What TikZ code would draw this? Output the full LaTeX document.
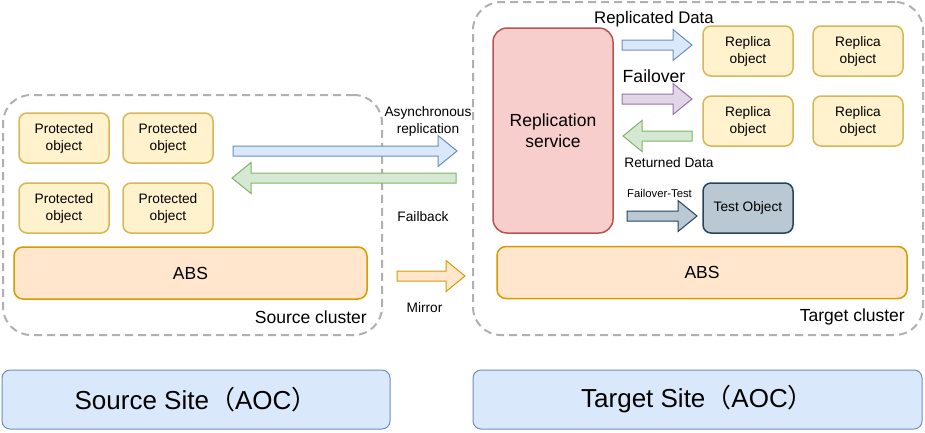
\documentclass[tikz,border=0pt]{standalone}
\usepackage{fontspec}
\setmainfont{Liberation Sans}
\newfontfamily\cjk{Noto Sans CJK SC}
\usetikzlibrary{positioning}

\definecolor{yelfill}{HTML}{FFF2CC}
\definecolor{yeldraw}{HTML}{D6B656}
\definecolor{orgfill}{HTML}{FFE6CC}
\definecolor{orgdraw}{HTML}{D79B00}
\definecolor{redfill}{HTML}{F8CECC}
\definecolor{reddraw}{HTML}{B85450}
\definecolor{bluefill}{HTML}{DAE8FC}
\definecolor{bluedraw}{HTML}{6C8EBF}
\definecolor{grnfill}{HTML}{D5E8D4}
\definecolor{grndraw}{HTML}{82B366}
\definecolor{purfill}{HTML}{E1D5E7}
\definecolor{purdraw}{HTML}{9673A6}
\definecolor{slatefill}{HTML}{BAC8D3}
\definecolor{slatedraw}{HTML}{23445D}
\definecolor{clgray}{HTML}{B0B0B0}

% block arrow: style, tail x, tip x, y
\newcommand{\fatarrow}[4]{%
  \draw[#1, line width=1pt, line join=miter]
    (#2,#4-5) -- ({#3-19*sign(#3-#2)},#4-5) -- ({#3-19*sign(#3-#2)},#4-15.5)
    -- (#3,#4) -- ({#3-19*sign(#3-#2)},#4+15.5) -- ({#3-19*sign(#3-#2)},#4+5)
    -- (#2,#4+5) -- cycle;}

\begin{document}
\begin{tikzpicture}[x=1pt, y=-1pt,
  txt/.style={inner sep=0pt, align=center, font=\fontsize{13.7}{17}\selectfont},
  bigtxt/.style={inner sep=0pt, align=center, font=\fontsize{17.5}{21}\selectfont},
  obj/.style={draw=yeldraw, fill=yelfill, line width=1.5pt, rounded corners=8pt,
    minimum width=90pt, minimum height=50pt, txt},
  abs/.style={draw=orgdraw, fill=orgfill, line width=1.5pt, rounded corners=9pt,
    minimum height=52pt, bigtxt},
  cluster/.style={draw=clgray, line width=2pt, dash pattern=on 8pt off 5pt,
    rounded corners=28pt},
  site/.style={draw=bluedraw, fill=bluefill, line width=1pt, rounded corners=8pt,
    minimum height=59pt, font=\fontsize{26}{30}\selectfont}]
  \useasboundingbox (0,0) rectangle (925,432);

  % Source side
  \node[cluster, minimum width=379pt, minimum height=240pt] (srccl) at (192.5,215) {};
  \node[obj] (prot1) at (64,138) {Protected\\object};
  \node[obj] (prot2) at (168,138) {Protected\\object};
  \node[obj] (prot3) at (64,208) {Protected\\object};
  \node[obj] (prot4) at (168,208) {Protected\\object};
  \node[abs, minimum width=353pt] (srcabs) at (190.5,273) {ABS};
  \node[bigtxt, anchor=east] (srclbl) at (367,317) {Source cluster};

  % Target side
  \node[cluster, minimum width=450pt, minimum height=333pt] (tgtcl) at (698,168.5) {};
  \node[draw=reddraw, fill=redfill, line width=1.5pt, rounded corners=14pt,
    minimum width=120pt, minimum height=205pt, bigtxt] (repsvc) at (553,130.5)
    {Replication\\service};
  \node[obj] (rep1) at (748,51) {Replica\\object};
  \node[obj] (rep2) at (858,51) {Replica\\object};
  \node[obj] (rep3) at (748,121) {Replica\\object};
  \node[obj] (rep4) at (858,121) {Replica\\object};
  \node[obj, draw=slatedraw, fill=slatefill] (testobj) at (748,208) {Test Object};
  \node[abs, minimum width=410pt] (tgtabs) at (702,272.5) {ABS};
  \node[bigtxt, anchor=east] (tgtlbl) at (905,317) {Target cluster};

  % arrows between sites
  \fatarrow{draw=bluedraw, fill=bluefill}{233}{457}{151}
  \fatarrow{draw=grndraw, fill=grnfill}{456}{232}{178}
  \fatarrow{draw=orgdraw, fill=orgfill}{397}{465}{276}
  \node[txt, font=\fontsize{13.7}{17}\selectfont] (asynlbl) at (428,121) {Asynchronous\\replication};
  \node[txt] (fblbl) at (423,217) {Failback};
  \node[txt] (mirlbl) at (424.5,308) {Mirror};

  % arrows inside target
  \fatarrow{draw=bluedraw, fill=bluefill}{622}{692}{45}
  \fatarrow{draw=purdraw, fill=purfill}{622}{692}{99}
  \fatarrow{draw=grndraw, fill=grnfill}{692}{623}{136}
  \fatarrow{draw=slatedraw, fill=slatefill}{627}{697}{216}
  \node[txt, font=\fontsize{16.8}{20}\selectfont] (repdlbl) at (654,19) {Replicated Data};
  \node[txt, font=\fontsize{17.6}{20}\selectfont] (folbl) at (654,76) {Failover};
  \node[txt] (retlbl) at (669,163) {Returned Data};
  \node[txt, font=\fontsize{11.3}{13}\selectfont] (ftlbl) at (659.5,193) {Failover-Test};

  % sites
  \node[site, minimum width=388pt] (srcsite) at (196,399.5) {Source Site{\cjk （}AOC{\cjk ）}};
  \node[site, minimum width=449pt] (tgtsite) at (697.5,399.5) {Target Site{\cjk （}AOC{\cjk ）}};
\end{tikzpicture}
\end{document}
